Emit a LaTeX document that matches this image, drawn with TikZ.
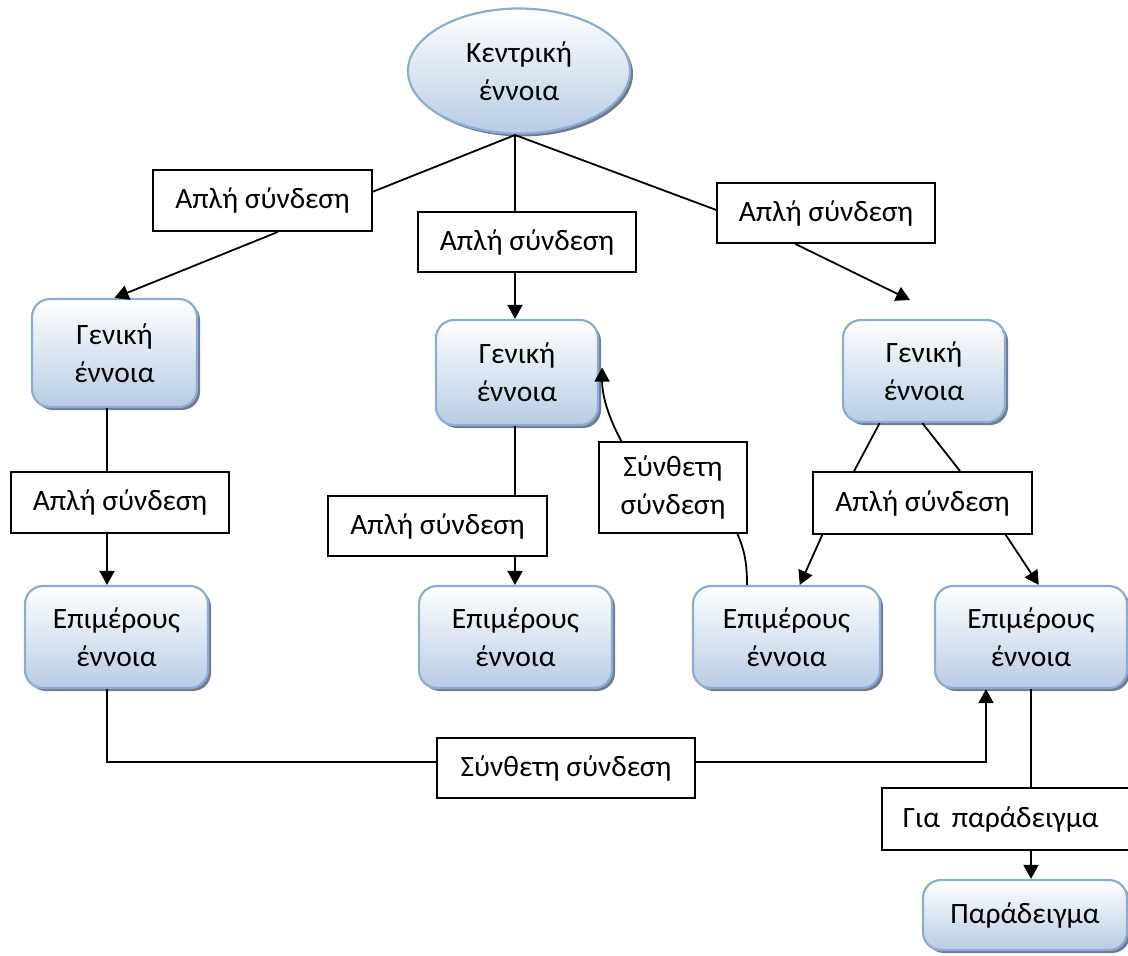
\documentclass[tikz,border=0pt]{standalone}
\usepackage{fontspec}
\setmainfont{Carlito}
\usetikzlibrary{shapes.geometric,arrows.meta,shadows,calc}
\definecolor{bordblue}{RGB}{140,172,212}
\definecolor{fillblue}{RGB}{184,204,228}
\definecolor{shadowc}{RGB}{100,110,130}
\begin{document}
\begin{tikzpicture}[x=1pt,y=-1pt,
  every node/.style={font=\fontsize{29.5}{38}\selectfont},
  lbl/.style={draw=black, line width=1.8pt, fill=white, inner sep=0pt, align=center},
  cpt/.style={rounded corners=18pt, draw=bordblue, line width=2.2pt, top color=white, bottom color=fillblue,
    drop shadow={shadow xshift=3pt, shadow yshift=-3pt, fill=shadowc, opacity=0.9}, align=center, inner sep=0pt},
  conn/.style={line width=1.8pt},
  arr/.style={conn, -{Triangle[length=14pt,width=15pt]}}]
\useasboundingbox (0,0) rectangle (1128,956);

% concept nodes
\node[ellipse, draw=bordblue, line width=2.2pt, top color=white, bottom color=fillblue,
  drop shadow={shadow xshift=3pt, shadow yshift=-3pt, fill=shadowc, opacity=0.9},
  minimum width=222pt, minimum height=125pt, inner sep=0pt, align=center] (ell) at (519,71) {Κεντρική\\έννοια};
\node[cpt, minimum width=165pt, minimum height=108pt] (A) at (114.5,353) {Γενική\\έννοια};
\node[cpt, minimum width=162pt, minimum height=105pt] (B) at (517,372.5) {Γενική\\έννοια};
\node[cpt, minimum width=162pt, minimum height=102pt] (C) at (924,371) {Γενική\\έννοια};
\node[cpt, minimum width=183pt, minimum height=102pt] (D) at (116.5,637) {Επιμέρους\\έννοια};
\node[cpt, minimum width=193pt, minimum height=102pt] (E) at (515.5,637) {Επιμέρους\\έννοια};
\node[cpt, minimum width=187pt, minimum height=102pt] (F) at (786.5,637) {Επιμέρους\\έννοια};
\node[cpt, minimum width=192pt, minimum height=102pt] (G) at (1031,637) {Επιμέρους\\έννοια};
\node[cpt, minimum width=204pt, minimum height=70pt] (H) at (1025,915) {Παράδειγμα};

% link labels
\node[lbl, minimum width=219pt, minimum height=61pt] (l1) at (262.5,200.5) {Απλή σύνδεση};
\node[lbl, minimum width=218pt, minimum height=60pt] (l2) at (527,242) {Απλή σύνδεση};
\node[lbl, minimum width=218pt, minimum height=60pt] (l3) at (826,213) {Απλή σύνδεση};
\node[lbl, minimum width=218pt, minimum height=61pt] (l4) at (120,502.5) {Απλή σύνδεση};
\node[lbl, minimum width=219pt, minimum height=60pt] (l5) at (437.5,526) {Απλή σύνδεση};
\node[lbl, minimum width=148pt, minimum height=91pt] (l6) at (673,487.5) {Σύνθετη\\σύνδεση};
\node[lbl, minimum width=219pt, minimum height=62pt] (l7) at (922.5,503) {Απλή σύνδεση};
\node[lbl, minimum width=258pt, minimum height=60pt] (l8) at (566,768) {Σύνθετη σύνδεση};
\node[lbl, anchor=west, minimum height=62pt, text width=228pt, inner xsep=21pt, align=left] (l9) at (881,819) {Για\hspace{12pt}παράδειγμα};

% helper coordinates
\coordinate (top) at (515,135);
\coordinate (ax) at (107,0);
\coordinate (gx) at (1031,0);
\coordinate (cx) at (986,0);
\coordinate (l3end) at (910,300);

% connectors from the central concept
\draw[conn] (top) -- ($(l1.north east)!0.36!(l1.south east)$);
\draw[arr] ($(l1.south west)!0.57!(l1.south east)$) -- (A.north);
\draw[conn] (top) -- (top |- l2.north);
\draw[arr] (top |- l2.south) -- (top |- B.north);
\draw[conn] (top) -- ($(l3.north west)!0.45!(l3.south west)$);
\draw[arr] ($(l3.south west)!0.36!(l3.south east)$) -- (l3end);

% left column
\draw[conn] (A.south -| ax) -- (l4.north -| ax);
\draw[arr] (l4.south -| ax) -- (D.north -| ax);

% centre column
\draw[conn] (top |- B.south) -- (top |- l5.north);
\draw[arr] (top |- l5.south) -- (top |- E.north);

% compound link to centre concept
\coordinate (l6b) at ($(l6.south west)!0.93!(l6.south east)$);
\coordinate (fT) at (747,0);
\draw[conn] (l6b) .. controls ($(l6b)+(7,16)$) and ($(F.north -| fT)+(0,-22)$) .. (F.north -| fT);
\coordinate (l6t) at ($(l6.north west)!0.155!(l6.north east)$);
\coordinate (bT) at ($(B.east)+(3,-5)$);
\draw[arr] (l6t) .. controls ($(l6t)+(-14,-26)$) and ($(bT)+(0,27)$) .. (bT);

% right column
\draw[conn] ($(C.south west)!0.23!(C.south east)$) -- ($(l7.north west)!0.19!(l7.north east)$);
\draw[conn] ($(C.south west)!0.49!(C.south east)$) -- ($(l7.north west)!0.67!(l7.north east)$);
\draw[arr] ($(l7.south west)!0.046!(l7.south east)$) -- ($(F.north west)!0.57!(F.north east)$);
\draw[arr] ($(l7.south west)!0.877!(l7.south east)$) -- ($(G.north west)!0.54!(G.north east)$);

% bottom compound link
\draw[conn] (D.south -| ax) -- (ax |- {$(l8.west)+(0,-6)$}) -- ($(l8.west)+(0,-6)$);
\draw[arr] ($(l8.east)+(0,-6)$) -- (cx |- {$(l8.east)+(0,-6)$}) -- (G.south -| cx);

% example
\draw[conn] (G.south -| gx) -- (l9.north -| gx);
\draw[arr] (l9.south -| gx) -- (H.north -| gx);
\end{tikzpicture}
\end{document}
